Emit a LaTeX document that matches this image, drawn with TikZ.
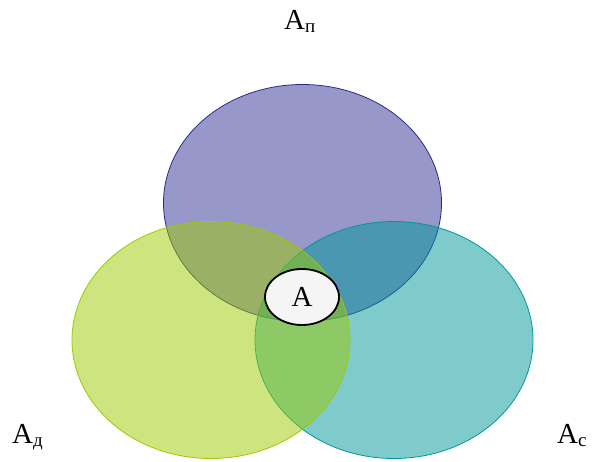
\documentclass[tikz,border=0pt]{standalone}
\usepackage{fontspec}
\setmainfont{Liberation Serif}
\usetikzlibrary{shapes.geometric}
\definecolor{setpurple}{RGB}{48,48,150}
\definecolor{setyellow}{RGB}{157,201,0}
\definecolor{setteal}{RGB}{0,151,153}
\newcommand{\lowsub}[1]{{\fontsize{19}{19}\selectfont\raisebox{-3pt}{#1}}}
\begin{document}
\begin{tikzpicture}[x=1pt,y=-1pt,line join=round]
	\tikzset{vennset/.style={ellipse,inner sep=0pt,minimum width=278pt,minimum height=237pt,fill opacity=0.5,line width=0.8pt},
		lbltext/.style={font=\fontsize{29}{31}\selectfont,inner sep=0pt}}
	\useasboundingbox (0,0) rectangle (592,461);
	% three sets
	\node[vennset,draw=setpurple!90!black,fill=setpurple] (setP) at (302.5,203) {};
	\node[vennset,draw=setteal,fill=setteal] (setC) at (394,340) {};
	\node[vennset,draw=setyellow,fill=setyellow] (setD) at (211,340) {};
	% common part
	\node[ellipse,draw=black,line width=1.8pt,fill=gray!8,minimum width=74pt,minimum height=56pt,inner sep=0pt,lbltext] (core) at (302,297) {A};
	% names
	\node[lbltext,anchor=base west] (nameP) at (284,29) {A\lowsub{п}};
	\node[lbltext,anchor=base west] (nameD) at (12,443) {A\lowsub{д}};
	\node[lbltext,anchor=base west] (nameC) at (557,443) {A\lowsub{с}};
\end{tikzpicture}
\end{document}
